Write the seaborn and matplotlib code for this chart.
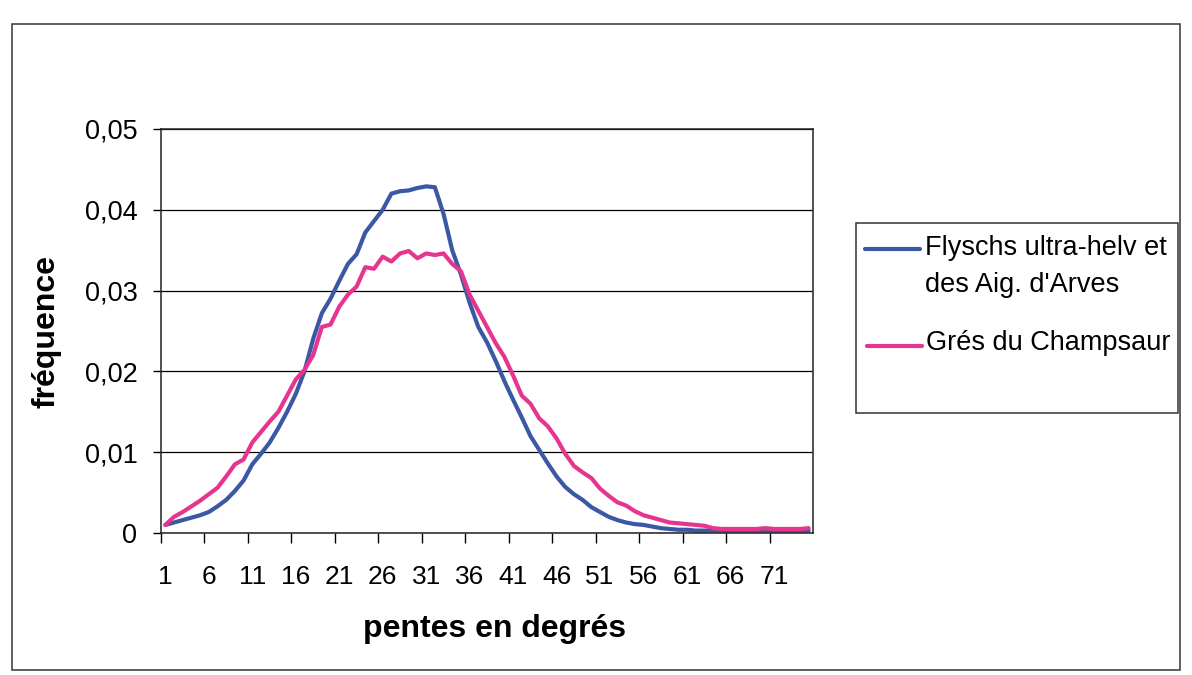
"""Distribution des pentes : Flyschs ultra-helv. vs Grés du Champsaur"""

import matplotlib
matplotlib.use("Agg")
import matplotlib.pyplot as plt
from matplotlib.lines import Line2D
from matplotlib.patches import Rectangle
from matplotlib.ticker import FuncFormatter
import pandas as pd
import seaborn as sns

# slope classes (degrees), one value per class
pentes = list(range(1, 76))

flyschs = [
    0.0010, 0.0013, 0.0016, 0.0019, 0.0022, 0.0026, 0.0033, 0.0041, 0.0052, 0.0065,
    0.0085, 0.0098, 0.0112, 0.0130, 0.0150, 0.0172, 0.0200, 0.0240, 0.0272, 0.0290,
    0.0312, 0.0333, 0.0345, 0.0372, 0.0386, 0.0400, 0.0420, 0.0423, 0.0424, 0.0427,
    0.0429, 0.0428, 0.0395, 0.0350, 0.0320, 0.0285, 0.0255, 0.0236, 0.0213, 0.0188,
    0.0165, 0.0143, 0.0120, 0.0103, 0.0086, 0.0070, 0.0057, 0.0048, 0.0041, 0.0032,
    0.0026, 0.0020, 0.0016, 0.0013, 0.0011, 0.0010, 0.0008, 0.0006, 0.0005, 0.0004,
    0.0004, 0.0003, 0.0003, 0.0003, 0.0003, 0.0003, 0.0003, 0.0003, 0.0003, 0.0003,
    0.0003, 0.0003, 0.0003, 0.0003, 0.0003,
]

champsaur = [
    0.0010, 0.0020, 0.0026, 0.0033, 0.0040, 0.0048, 0.0056, 0.0070, 0.0085, 0.0091,
    0.0112, 0.0125, 0.0138, 0.0150, 0.0170, 0.0190, 0.0202, 0.0220, 0.0255, 0.0258,
    0.0280, 0.0295, 0.0305, 0.0329, 0.0327, 0.0342, 0.0336, 0.0346, 0.0349, 0.0340,
    0.0346, 0.0344, 0.0346, 0.0333, 0.0324, 0.0295, 0.0275, 0.0255, 0.0235, 0.0218,
    0.0195, 0.0170, 0.0160, 0.0142, 0.0132, 0.0117, 0.0098, 0.0083, 0.0075, 0.0068,
    0.0055, 0.0046, 0.0038, 0.0034, 0.0027, 0.0022, 0.0019, 0.0016, 0.0013, 0.0012,
    0.0011, 0.0010, 0.0009, 0.0006, 0.0005, 0.0005, 0.0005, 0.0005, 0.0005, 0.0006,
    0.0005, 0.0005, 0.0005, 0.0005, 0.0006,
]

series_names = ["Flyschs ultra-helv et\ndes Aig. d'Arves", "Grés du Champsaur"]
series_colors = ["#3b58a4", "#e6358f"]
x_labels = list(range(1, 72, 5))
y_ticks = [0, 0.01, 0.02, 0.03, 0.04, 0.05]

W, H = 1192, 675


def fx(px):
    return px / W


def fy(py):
    return 1 - py / H


def build_frame():
    """Long format table for seaborn"""
    rows = []
    for name, values in zip(series_names, [flyschs, champsaur]):
        for p, v in zip(pentes, values):
            rows.append((p, v, name))
    return pd.DataFrame(rows, columns=["pente", "frequence", "serie"])


def plot_pentes(df):
    sns.set_style("white")
    plt.rcParams["font.family"] = ["Liberation Sans", "DejaVu Sans"]
    plt.rcParams["text.color"] = "black"
    plt.rcParams["axes.labelcolor"] = "black"
    plt.rcParams["xtick.color"] = "black"
    plt.rcParams["ytick.color"] = "black"

    fig = plt.figure(figsize=(W / 100, H / 100), dpi=100)
    ax = fig.add_axes([fx(161), fy(533), 652 / W, 404 / H])

    sns.lineplot(data=df, x="pente", y="frequence", hue="serie", hue_order=series_names,
                 palette=series_colors, linewidth=3, ax=ax, legend=False)

    ax.set_xlim(0.5, 75.5)
    ax.set_ylim(0, 0.05)

    # labels on classes, tick marks between classes
    ax.set_xticks(x_labels)
    ax.set_xticklabels([str(v) for v in x_labels])
    ax.set_xticks([v - 0.5 for v in x_labels], minor=True)
    ax.tick_params(axis="x", which="major", length=0, pad=23, labelsize=19)
    ax.tick_params(axis="x", which="minor", length=7, width=1, color="black", direction="out",
                   bottom=True)

    ax.set_yticks(y_ticks)
    ax.yaxis.set_major_formatter(FuncFormatter(lambda v, _: "0" if v == 0 else f"{v:.2f}".replace(".", ",")))
    ax.tick_params(axis="y", length=6, width=1, color="black", direction="out", pad=11,
                   labelsize=19.5, left=True)

    ax.grid(axis="y", color="black", linewidth=0.9)
    ax.set_axisbelow(True)
    for s in ax.spines.values():
        s.set_color("#222222")
        s.set_linewidth(1.1)

    ax.set_xlabel("pentes en degrés", fontsize=23, fontweight="bold")
    ax.set_ylabel("fréquence", fontsize=23, fontweight="bold")
    ax.xaxis.set_label_coords(0.512, -0.2)
    ax.yaxis.set_label_coords(-0.152, 0.5)

    # legend box, drawn by hand so the key sits on the first text line
    fig.patches.append(Rectangle((fx(856), fy(413)), 322 / W, 190 / H,
                                 transform=fig.transFigure, fill=False, edgecolor="#333333",
                                 linewidth=1.1))
    fig.add_artist(Line2D([fx(865), fx(920)], [fy(249), fy(249)], color=series_colors[0],
                          linewidth=3, transform=fig.transFigure))
    fig.add_artist(Line2D([fx(867), fx(922)], [fy(346), fy(346)], color=series_colors[1],
                          linewidth=3, transform=fig.transFigure))
    first, second = series_names[0].split("\n")
    fig.text(fx(925), fy(255), first, fontsize=19.5, va="baseline")
    fig.text(fx(925), fy(292), second, fontsize=19.5, va="baseline")
    fig.text(fx(926), fy(350), series_names[1], fontsize=19.5, va="baseline")

    # outer chart border
    fig.patches.append(Rectangle((fx(12), fy(670)), 1168 / W, 646 / H,
                                 transform=fig.transFigure, fill=False, edgecolor="#444444",
                                 linewidth=1.2))

    fig.savefig("out.png", dpi=100)


if __name__ == "__main__":
    plot_pentes(build_frame())
